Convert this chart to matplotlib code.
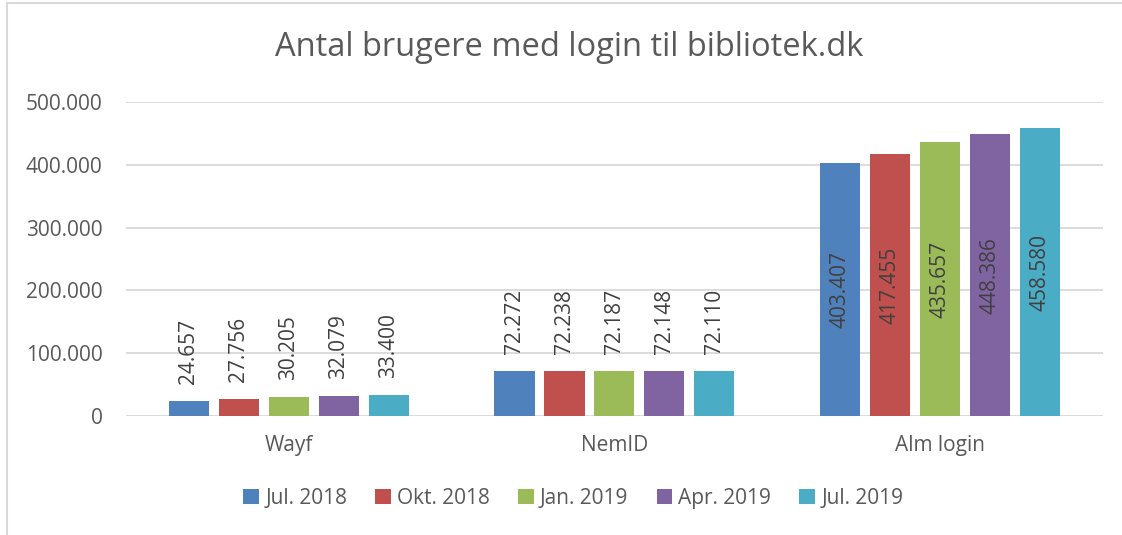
import matplotlib.pyplot as plt
from matplotlib.patches import Rectangle
import numpy as np

plt.rcParams['font.family'] = ['Open Sans', 'DejaVu Sans']

# Data
categories = ['Wayf', 'NemID', 'Alm login']
periods = ['Jul. 2018', 'Okt. 2018', 'Jan. 2019', 'Apr. 2019', 'Jul. 2019']
values = {
    'Jul. 2018': [24657, 72272, 403407],
    'Okt. 2018': [27756, 72238, 417455],
    'Jan. 2019': [30205, 72187, 435657],
    'Apr. 2019': [32079, 72148, 448386],
    'Jul. 2019': [33400, 72110, 458580],
}
yticks = [0, 100000, 200000, 300000, 400000, 500000]
ytick_labels = ['0', '100.000', '200.000', '300.000', '400.000', '500.000']
colors = ['#4F81BD', '#C0504D', '#9BBB59', '#8064A2', '#4BACC6']

txt_col = '#595959'
lbl_col = '#404040'

fig = plt.figure(figsize=(11.22, 5.35), dpi=100)
ax = fig.add_axes([0.1123, 0.2224, 0.8707, 0.5869])

x = np.arange(len(categories))
pitch = 0.1535
width = 0.123
for i, p in enumerate(periods):
    xs = x + (i - 2) * pitch
    ax.bar(xs, values[p], width=width, color=colors[i], label=p, zorder=3)
    for j, (xx, v) in enumerate(zip(xs, values[p])):
        s = f'{v:,}'.replace(',', '.')
        if categories[j] == 'Alm login':
            ax.text(xx, v / 2, s, rotation=90, ha='center', va='center',
                    fontsize=15, color=lbl_col, zorder=4)
        else:
            ax.annotate(s, (xx, v), xytext=(0, 12), textcoords='offset points',
                        rotation=90, ha='center', va='bottom',
                        fontsize=15, color=lbl_col, zorder=4)

ax.set_xlim(-0.5, 2.5)
ax.set_ylim(0, 500000)
ax.set_yticks(yticks)
ax.set_yticklabels(ytick_labels)
ax.set_xticks(x)
ax.set_xticklabels(categories)
ax.tick_params(axis='both', length=0, labelsize=15, colors=txt_col)
ax.tick_params(axis='x', pad=14)
ax.tick_params(axis='y', pad=17)
ax.grid(axis='y', color='#D9D9D9', linewidth=1.3, zorder=0)
ax.set_axisbelow(True)
for sp in ax.spines.values():
    sp.set_visible(False)

fig.text(0.507, 0.912, 'Antal brugere med login til bibliotek.dk',
         ha='center', va='center', fontsize=23.5, color=txt_col)

fig.legend(loc='center', bbox_to_anchor=(0.511, 0.069), ncol=5, frameon=False,
           fontsize=15, labelcolor=txt_col, handlelength=0.75, handleheight=0.75,
           handletextpad=0.3, columnspacing=1.35)

# outer chart-area border (only left and top edges are visible)
fig.patches.append(Rectangle((7 / 1122, -20 / 535), 1140 / 1122, 552 / 535,
                             transform=fig.transFigure, fill=False,
                             edgecolor='#D9D9D9', linewidth=1.5))

fig.savefig('out.png', dpi=100)
